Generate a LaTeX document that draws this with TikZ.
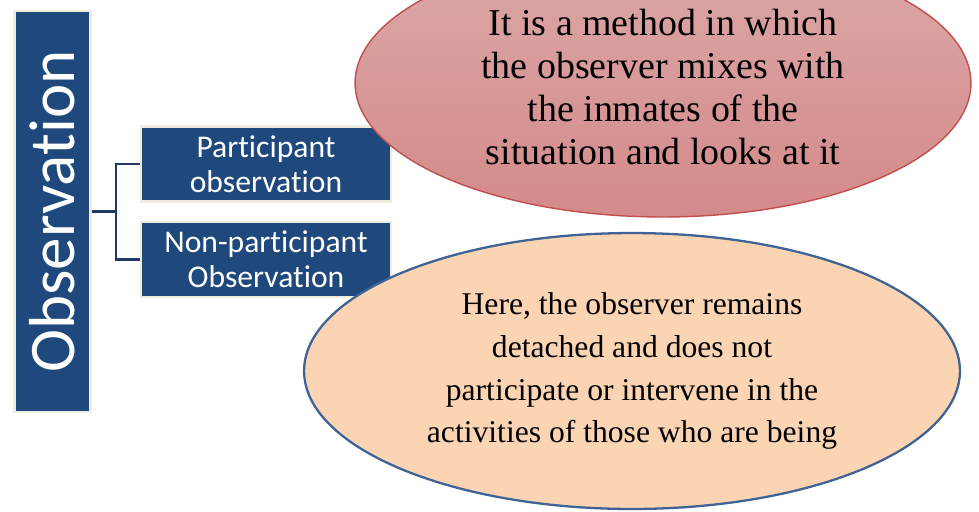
\documentclass[tikz,border=0pt]{standalone}
\usepackage{fontspec}
\setmainfont{Liberation Serif}
\newfontfamily\calibrifont[Ligatures=NoCommon]{Carlito}
\usetikzlibrary{shapes.geometric}

\definecolor{boxblue}{HTML}{1F497D}
\definecolor{boxrim}{HTML}{EEECE1}
\definecolor{linkblue}{HTML}{1F3864}
\definecolor{roseTop}{HTML}{DCA8A8}
\definecolor{roseBot}{HTML}{D48A8A}
\definecolor{roseRim}{HTML}{C0504D}
\definecolor{peach}{HTML}{FBD4B4}
\definecolor{peachRim}{HTML}{3F6395}

\begin{document}
\begin{tikzpicture}[x=0.02cm, y=-0.02cm,
    % Styles
    titlebox/.style={draw=boxrim, fill=boxblue, line width=1.2pt, minimum width=1.52cm, minimum height=8.02cm, inner sep=0pt},
    kindbox/.style={draw=boxrim, fill=boxblue, line width=1.2pt, minimum width=5cm, minimum height=1.5cm, inner sep=0pt, text=white, align=center, font=\calibrifont\fontsize{18}{19.8}\selectfont},
    link/.style={draw=linkblue, line width=1.3pt},
    partnote/.style={ellipse, draw=roseRim, thick, top color=roseTop, bottom color=roseBot, minimum width=12.32cm, minimum height=5.36cm, inner sep=0pt, align=center, font=\fontsize{21.6}{24.6}\selectfont},
    nonnote/.style={ellipse, draw=peachRim, line width=1.3pt, fill=peach, minimum width=13.12cm, minimum height=5.52cm, inner sep=0pt, align=center, font=\fontsize{18}{24.4}\selectfont},
]

% Canvas
\useasboundingbox (0,0) rectangle (979,511);
\clip (0,0) rectangle (979,511);

% Title column
\node[titlebox] (obs) at (52.5,211.5) {};
\node[rotate=90, text=white, font=\calibrifont\fontsize{37}{40}\selectfont] (obstext) at (obs.center) {Observation};

% Kinds of observation
\node[kindbox] (part) at (266,164) {Participant\\observation};
\node[kindbox] (nonpart) at (266,259.5) {Non-participant\\Observation};

% Bracket
\coordinate (junc) at (116,211.5);
\draw[link] (obs.east) -- (junc) |- (part.west);
\draw[link] (junc) |- (nonpart.west);

% Notes
\node[partnote] (partdef) at (663,83) {};
\node[align=center, font=\fontsize{21.6}{24.6}\selectfont] (parttext) at (663,87) {It is a method in which\\the observer mixes with\\the inmates of the\\situation and looks at it};
\node[nonnote] (nonpartdef) at (632,371) {Here, the observer remains\\detached and does not\\participate or intervene in the\\activities of those who are being};

\end{tikzpicture}
\end{document}
